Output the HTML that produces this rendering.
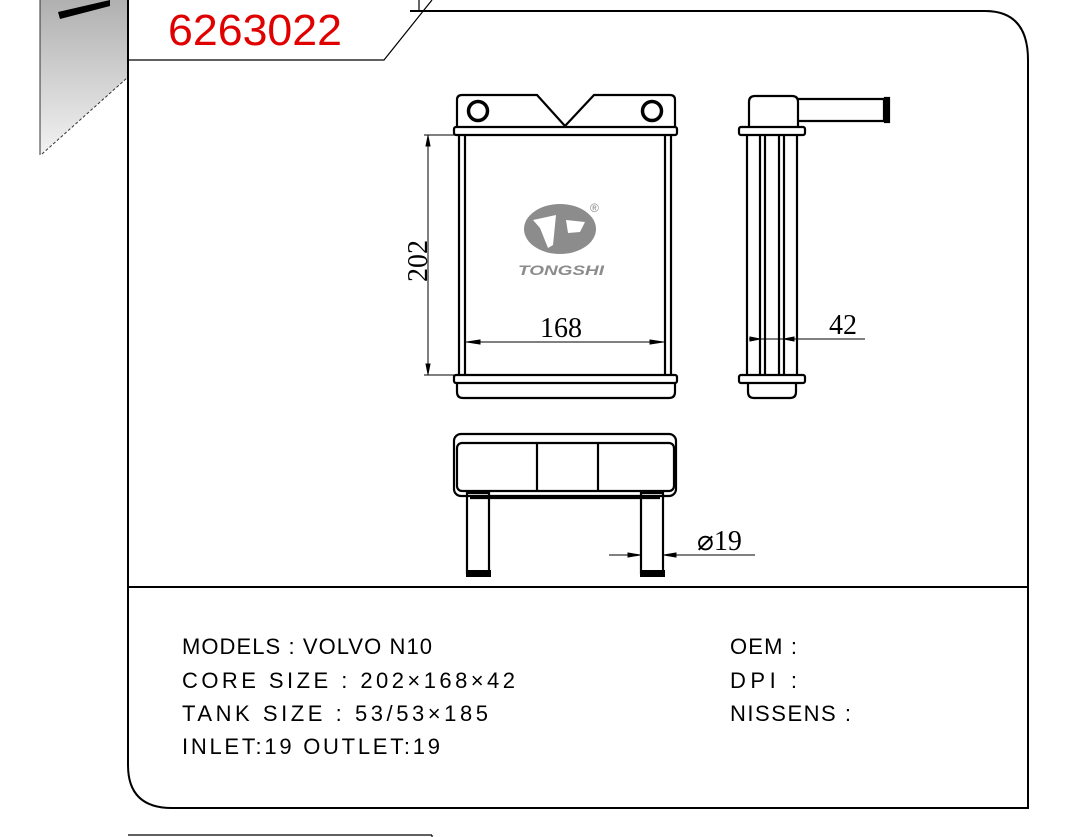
<!DOCTYPE html>
<html><head><meta charset="utf-8"><style>
html,body{margin:0;padding:0;background:#fff;}
svg{display:block}
</style></head><body>
<svg width="1071" height="837" viewBox="0 0 1071 837" xmlns="http://www.w3.org/2000/svg">
<defs>
<linearGradient id="g" x1="0" y1="0" x2="0" y2="1">
<stop offset="0" stop-color="#b0b0b0"/><stop offset="1" stop-color="#f2f2f2"/>
</linearGradient>
</defs>
<polygon points="40,0 127,0 127,78 40,155" fill="url(#g)"/>
<line x1="40" y1="0" x2="40" y2="155" stroke="#333" stroke-width="1"/>
<line x1="42" y1="154" x2="127" y2="78" stroke="#333" stroke-width="1" stroke-dasharray="3,2"/>
<polygon points="58,12 110,0 110,6 60,19" fill="#000"/>
<g fill="none" stroke="#000" stroke-width="2">
<path d="M128,0 V765 Q128,808 172,808 H1028 V60 Q1028,11 985,11 H410"/>
<line x1="128" y1="587" x2="1028" y2="587"/>
</g>
<g fill="none" stroke="#000" stroke-width="1.2">
<polyline points="128,60 384,60 432,0"/>
<line x1="419" y1="0" x2="419" y2="11"/>
<line x1="128" y1="835" x2="432" y2="835"/>
<line x1="432" y1="835" x2="432" y2="837"/>
</g>
<text x="168" y="45" font-family="Liberation Sans, sans-serif" font-size="44" fill="#e00000" textLength="174" lengthAdjust="spacingAndGlyphs">6263022</text>

<g fill="none" stroke="#000" stroke-width="2.2">
<path d="M457,127 V100 Q457,95 462,95 H537 L565,126 L594,95 H670 Q675,95 675,100 V127"/>
<circle cx="478" cy="111" r="9.5" stroke-width="3.5"/>
<circle cx="652" cy="111" r="9.5" stroke-width="3.5"/>
<rect x="454" y="127" width="223" height="8" rx="2"/>
<rect x="454" y="375" width="223" height="8" rx="2"/>
<path d="M457,383 V392 Q457,398 463,398 H669 Q675,398 675,392 V383"/>
<line x1="459" y1="135" x2="459" y2="375"/>
<line x1="465" y1="135" x2="465" y2="375"/>
<line x1="665" y1="135" x2="665" y2="375"/>
<line x1="671" y1="135" x2="671" y2="375"/>
</g>
<g stroke="#000" stroke-width="1" fill="#000">
<line x1="424" y1="135" x2="454" y2="135"/>
<line x1="424" y1="375" x2="454" y2="375"/>
<line x1="428" y1="135" x2="428" y2="375"/>
<polygon points="428,136 426,146 430,146"/>
<polygon points="428,374 426,364 430,364"/>
<line x1="466" y1="342" x2="664" y2="342"/>
<polygon points="467,342 480,340 480,344"/>
<polygon points="663,342 650,340 650,344"/>
</g>
<text x="0" y="0" transform="translate(427,282) rotate(-90)" font-family="Liberation Serif, serif" font-size="28">202</text>
<text x="540" y="337" font-family="Liberation Serif, serif" font-size="28">168</text>
<ellipse cx="560" cy="229" rx="36" ry="25" fill="#8c8c8c"/>
<polygon points="533,220 556,215 553,245 548,248 540,228" fill="#fff"/>
<polygon points="566,220 585,222 580,232 568,233" fill="#fff"/>
<text x="590" y="212" font-family="Liberation Sans, sans-serif" font-size="12" fill="#888">®</text>
<text x="518" y="275" font-family="Liberation Sans, sans-serif" font-size="14" font-weight="bold" font-style="italic" fill="#8c8c8c" textLength="86" lengthAdjust="spacingAndGlyphs">TONGSHI</text>

<g fill="none" stroke="#000" stroke-width="2.2">
<path d="M749,127 V102 Q749,96 755,96 H792 Q798,96 798,102 V127"/>
<path d="M798,99 H884 V121 H798"/>
<rect x="885" y="98" width="4" height="24" fill="#000"/>
<rect x="739" y="127" width="66" height="8" rx="2"/>
<rect x="739" y="375" width="66" height="8" rx="2"/>
<path d="M748,383 V392 Q748,398 754,398 H790 Q796,398 796,392 V383"/>
<line x1="747" y1="135" x2="747" y2="375"/>
<line x1="760" y1="135" x2="760" y2="375"/>
<line x1="765" y1="135" x2="765" y2="375"/>
<line x1="779" y1="135" x2="779" y2="375"/>
<line x1="784" y1="135" x2="784" y2="375"/>
<line x1="797" y1="135" x2="797" y2="375"/>
</g>
<g stroke="#000" stroke-width="1" fill="#000">
<line x1="749" y1="339" x2="865" y2="339"/>
<polygon points="760,339 750,337 750,341"/>
<polygon points="784,339 794,337 794,341"/>
</g>
<text x="829" y="334" font-family="Liberation Serif, serif" font-size="28">42</text>

<g fill="none" stroke="#000" stroke-width="2.2">
<rect x="454" y="434" width="222" height="62" rx="7"/>
<rect x="457" y="443" width="217" height="48" rx="5"/>
<line x1="537" y1="443" x2="537" y2="491"/>
<line x1="598" y1="443" x2="598" y2="491"/>
<line x1="470" y1="498" x2="660" y2="498"/>
<rect x="467" y="493" width="22" height="80"/>
<rect x="641" y="493" width="22" height="80"/>
</g>
<rect x="466" y="570" width="25" height="7" fill="#000"/>
<rect x="640" y="570" width="25" height="7" fill="#000"/>
<g stroke="#000" stroke-width="1" fill="#000">
<line x1="609" y1="555" x2="640" y2="555"/>
<line x1="664" y1="555" x2="755" y2="555"/>
<polygon points="640,555 628,553 628,557"/>
<polygon points="664,555 676,553 676,557"/>
</g>
<text x="697" y="550" font-family="Liberation Serif, serif" font-size="28">⌀19</text>

<g font-family="Liberation Sans, 'Noto Sans CJK SC', sans-serif" font-size="22" fill="#000">
<text x="182" y="654" textLength="250" lengthAdjust="spacing">MODELS : VOLVO N10</text>
<text x="182" y="688" textLength="333" lengthAdjust="spacing">CORE SIZE : 202×168×42</text>
<text x="182" y="721" textLength="306" lengthAdjust="spacing">TANK SIZE : 53/53×185</text>
<text x="182" y="754" textLength="258" lengthAdjust="spacing">INLET:19  OUTLET:19</text>
<text x="730" y="654" textLength="67" lengthAdjust="spacing">OEM :</text>
<text x="730" y="688" textLength="67" lengthAdjust="spacing">DPI :</text>
<text x="730" y="721" textLength="121" lengthAdjust="spacing">NISSENS :</text>
</g>
</svg>
</body></html>
